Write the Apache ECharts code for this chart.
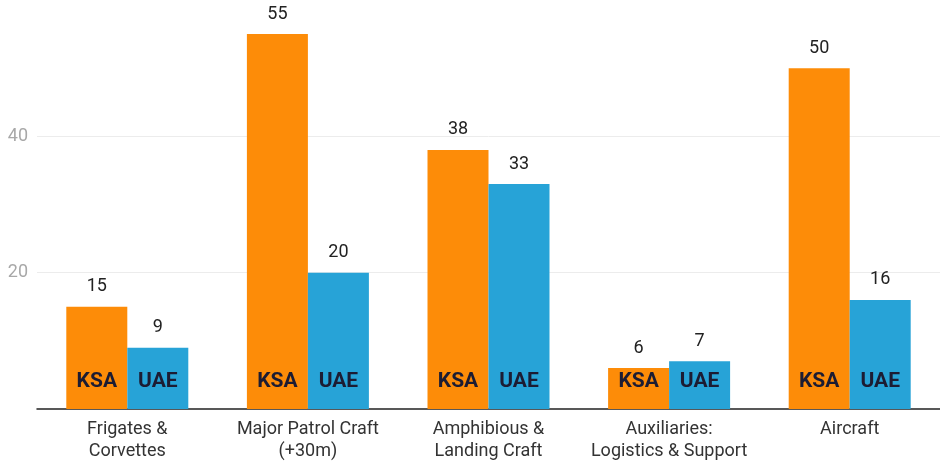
<!DOCTYPE html>
<html>
<head>
<meta charset="utf-8">
<script src="https://cdn.jsdelivr.net/npm/echarts@6/dist/echarts.min.js"></script>
<style>
	html, body { margin: 0; padding: 0; background: #fff; }
	#chart { width: 940px; height: 463px; }
</style>
</head>
<body>
<div id="chart"></div>
<script>
const categories = [
	"Frigates &\nCorvettes",
	"Major Patrol Craft\n(+30m)",
	"Amphibious &\nLanding Craft",
	"Auxiliaries:\nLogistics & Support",
	"Aircraft",
];
const ksaValues = [15, 55, 38, 6, 50];
const uaeValues = [9, 20, 33, 7, 16];
const yTicks = [20, 40];

const ORANGE = "#fd8c08";
const BLUE = "#27a3d7";
const FONT = "Roboto";

const chart = echarts.init(document.getElementById("chart"));

const nameLabel = (text) => ({
	show: true,
	position: "insideBottom",
	distance: 17,
	formatter: text,
	fontFamily: FONT,
	fontSize: 21,
	fontWeight: "bold",
	color: "#1c1c33",
});

const valueLabel = {
	show: true,
	position: "top",
	distance: 11,
	fontFamily: FONT,
	fontSize: 18,
	color: "#222",
};

const barBase = { barWidth: 61, animation: false };

chart.setOption({
	animation: false,
	textStyle: { fontFamily: FONT },
	grid: { left: 37, right: -3, top: -3, bottom: 54, containLabel: false },
	xAxis: [
		{
			type: "category",
			data: categories,
			axisLine: { show: true, lineStyle: { color: "#222", width: 1.5 } },
			axisTick: { show: false },
			axisLabel: {
				margin: 9,
				fontFamily: FONT,
				fontSize: 18,
				lineHeight: 22,
				color: "#333",
				interval: 0,
			},
		},
		{
			type: "category",
			data: categories,
			show: false,
		},
	],
	yAxis: {
		type: "value",
		min: 0,
		max: 60,
		interval: 20,
		axisLine: { show: false },
		axisTick: { show: false },
		axisLabel: {
			margin: 9,
			fontFamily: FONT,
			fontSize: 18,
			color: "#a8a8a8",
			formatter: (v) => (yTicks.includes(v) ? String(v) : ""),
		},
		splitLine: {
			showMinLine: false,
			showMaxLine: false,
			lineStyle: { color: "#ececec" },
		},
	},
	series: [
		{
			...barBase,
			name: "KSA",
			type: "bar",
			xAxisIndex: 0,
			data: ksaValues,
			barGap: "0%",
			itemStyle: { color: ORANGE },
			label: nameLabel("KSA"),
		},
		{
			...barBase,
			name: "UAE",
			type: "bar",
			xAxisIndex: 0,
			data: uaeValues,
			barGap: "0%",
			itemStyle: { color: BLUE },
			label: nameLabel("UAE"),
		},
		{
			...barBase,
			name: "KSA value",
			type: "bar",
			xAxisIndex: 1,
			data: ksaValues,
			barGap: "0%",
			itemStyle: { color: "transparent" },
			label: valueLabel,
			silent: true,
		},
		{
			...barBase,
			name: "UAE value",
			type: "bar",
			xAxisIndex: 1,
			data: uaeValues,
			barGap: "0%",
			itemStyle: { color: "transparent" },
			label: valueLabel,
			silent: true,
		},
	],
});
</script>
</body>
</html>
